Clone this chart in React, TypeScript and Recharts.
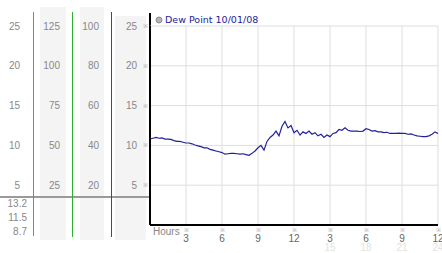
import React from "react";
import { LineChart, Line, XAxis, YAxis, CartesianGrid, Legend } from "recharts";

// dew point readings, one every quarter hour from 0h to 24h
const SAMPLE_STEP = 0.25;
const dewPoint = [
  10.8, 10.9, 11.0, 10.9, 10.95, 10.8, 10.8, 10.75, 10.6, 10.5, 10.5, 10.4,
  10.3, 10.3, 10.2, 10.05, 9.95, 9.85, 9.7, 9.7, 9.5, 9.4, 9.3, 9.2,
  9.1, 8.9, 8.95, 9.0, 9.0, 8.95, 8.9, 8.95, 8.85, 8.75, 9.0, 9.3,
  9.7, 10.0, 9.4, 10.5, 11.0, 11.3, 11.8, 11.2, 12.4, 13.0, 12.2, 12.5,
  11.6, 11.9, 11.3, 11.7, 11.5, 11.8, 11.4, 11.6, 11.2, 11.4, 11.0, 11.3,
  11.1, 11.5, 11.6, 12.0, 11.9, 12.2, 11.9, 11.8, 11.8, 11.8, 11.75, 11.8,
  12.1, 12.0, 11.8, 11.85, 11.7, 11.7, 11.6, 11.65, 11.5, 11.5, 11.5, 11.55,
  11.5, 11.5, 11.4, 11.45, 11.3, 11.2, 11.15, 11.1, 11.1, 11.2, 11.4, 11.7,
  11.5,
];

const hourTicks = [3, 6, 9, 12, 15, 18, 21, 24];
const hourLabels = ["3", "6", "9", "12", "3", "6", "9", "12"];
const dewTicks = [5, 10, 15, 20, 25];
const col1Ticks = [5, 10, 15, 20, 25];
const col2Ticks = [25, 50, 75, 100, 125];
const col3Ticks = [20, 40, 60, 80, 100];
const col1Stats = ["13.2", "11.5", "8.7"];
const seriesName = "Dew Point 10/01/08";

const data = dewPoint.map((v, i) => ({ hour: i * SAMPLE_STEP, dew: v }));

const FONT = "'Liberation Sans', Arial, sans-serif";

const LeftTick = (props: any) => {
  const { y, payload } = props;
  const i = dewTicks.indexOf(payload.value);
  const common = {
    y,
    fontSize: 10,
    fill: "#888",
    textAnchor: "end" as const,
    dominantBaseline: "central" as const,
    fontFamily: FONT,
  };
  return (
    <g>
      <text x={20} {...common}>{col1Ticks[i]}</text>
      <text x={60} {...common}>{col2Ticks[i]}</text>
      <text x={99} {...common}>{col3Ticks[i]}</text>
      <text x={137} {...common}>{payload.value}</text>
      <text x={145} y={y} fontSize={6} fill="#aaa" textAnchor="middle" dominantBaseline="central">
        ※
      </text>
    </g>
  );
};

const HourTick = (props: any) => {
  const { x, payload } = props;
  const i = hourTicks.indexOf(payload.value);
  return (
    <g fontFamily={FONT}>
      <text x={x} y={232} fontSize={6} fill="#aaa" textAnchor="middle">※</text>
      <text x={x} y={242} fontSize={10} fill="#666" textAnchor="middle">
        {hourLabels[i]}
      </text>
      {payload.value > 12 && (
        <text x={x} y={251} fontSize={10} fill="#e2e2e2" textAnchor="middle">
          {payload.value}
        </text>
      )}
    </g>
  );
};

const LegendContent = (props: any) => {
  const item = props.payload && props.payload[0];
  return (
    <div style={{ display: "flex", alignItems: "center", whiteSpace: "nowrap" }}>
      <svg width={8} height={8} style={{ marginRight: 2 }}>
        <circle cx={4} cy={4} r={3} fill="#b5b5b5" stroke="#8c8c8c" strokeWidth={1} />
      </svg>
      <span style={{ fontFamily: "'DejaVu Sans', sans-serif", fontSize: 9.5, color: "#22229a" }}>
        {item ? item.value : seriesName}
      </span>
    </div>
  );
};

const box = (left: number, top: number, width: number, height: number, bg: string) => (
  <div style={{ position: "absolute", left, top, width, height, background: bg }} />
);

const statText = (label: string, cy: number) => (
  <div
    key={label}
    style={{
      position: "absolute",
      left: 0,
      width: 27,
      top: cy - 6,
      lineHeight: "12px",
      textAlign: "right",
      fontFamily: FONT,
      fontSize: 10,
      color: "#888",
    }}
  >
    {label}
  </div>
);

export default function App() {
  return (
    <div
      style={{
        position: "absolute",
        left: 0,
        top: 0,
        width: 442,
        height: 253,
        background: "#fff",
        overflow: "hidden",
      }}
    >
      {box(40, 7, 26, 233, "#f4f4f4")}
      {box(80, 7, 24, 233, "#f4f4f4")}
      {box(115, 16, 31, 224, "#f4f4f4")}
      {box(0, 196, 149, 2, "#9a9a9a")}
      {box(33, 12, 1, 224, "#1fa8cf")}
      {box(72, 12, 1, 225, "#2fae2f")}
      {box(111, 12, 1, 225, "#b81e1e")}
      {box(149, 13, 2, 14, "#000")}
      {col1Stats.map((s, i) => statText(s, 204 + i * 14))}
      <div
        style={{
          position: "absolute",
          left: 153,
          top: 226,
          lineHeight: "12px",
          fontFamily: FONT,
          fontSize: 10,
          color: "#888",
        }}
      >
        Hours
      </div>
      <div style={{ position: "absolute", left: 0, top: 0 }}>
        <LineChart
          width={442}
          height={253}
          data={data}
          margin={{ top: 26, right: 4, bottom: 0, left: 115 }}
        >
          <CartesianGrid stroke="#dedede" strokeWidth={1} />
          <XAxis
            dataKey="hour"
            type="number"
            domain={[0, 24]}
            ticks={hourTicks}
            interval={0}
            height={28}
            tickLine={false}
            axisLine={{ stroke: "#000", strokeWidth: 2 }}
            tick={<HourTick />}
          />
          <YAxis
            type="number"
            domain={[0, 25]}
            ticks={dewTicks}
            interval={0}
            width={35}
            tickLine={false}
            axisLine={{ stroke: "#000", strokeWidth: 2 }}
            tick={<LeftTick />}
          />
          <Legend
            layout="vertical"
            align="center"
            verticalAlign="middle"
            content={<LegendContent />}
            wrapperStyle={{ top: 14, left: 155, width: "auto" }}
          />
          <Line
            dataKey="dew"
            name={seriesName}
            type="linear"
            stroke="#22229a"
            strokeWidth={1.2}
            dot={false}
            isAnimationActive={false}
          />
        </LineChart>
      </div>
    </div>
  );
}
